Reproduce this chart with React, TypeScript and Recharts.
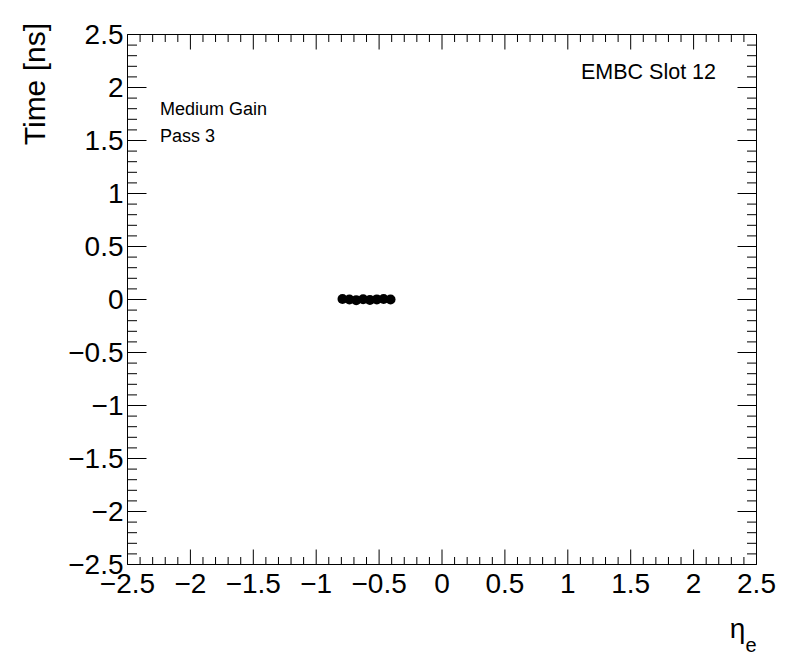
import { ReferenceArea, Scatter, ScatterChart, XAxis, YAxis } from 'recharts';

// measured η positions and time offsets of the slot 12 cells
const etaValues = [-0.791, -0.736, -0.682, -0.627, -0.573, -0.518, -0.464, -0.409];
const timeValues = [0.004, 0.0, -0.006, 0.002, -0.004, 0.001, 0.005, 0.0];

const axisTicks = [
  -2.5, -2.4, -2.3, -2.2, -2.1, -2, -1.9, -1.8, -1.7, -1.6, -1.5, -1.4, -1.3, -1.2, -1.1,
  -1, -0.9, -0.8, -0.7, -0.6, -0.5, -0.4, -0.3, -0.2, -0.1, 0, 0.1, 0.2, 0.3, 0.4, 0.5,
  0.6, 0.7, 0.8, 0.9, 1, 1.1, 1.2, 1.3, 1.4, 1.5, 1.6, 1.7, 1.8, 1.9, 2, 2.1, 2.2, 2.3,
  2.4, 2.5,
];

const W = 796;
const H = 672;
const PLOT = { left: 127.5, top: 34.5, right: 756.5, bottom: 564.5 };
const FONT = '"Liberation Sans", Arial, Helvetica, sans-serif';

const points = etaValues.map((eta, i) => ({ eta, time: timeValues[i] }));

const isMajor = (v: number) => Math.abs(v * 2 - Math.round(v * 2)) < 1e-6;
const fmt = (v: number) => (v < 0 ? '\u2212' + String(-v) : String(v));

function XTick(props: any) {
  const { x, payload } = props;
  const v = payload.value as number;
  const major = isMajor(v);
  const len = major ? 15 : 7.5;
  return (
    <g>
      <line x1={x} y1={PLOT.bottom} x2={x} y2={PLOT.bottom - len} stroke="#000" />
      <line x1={x} y1={PLOT.top} x2={x} y2={PLOT.top + len} stroke="#000" />
      {major && (
        <text x={x} y={PLOT.bottom + 28} textAnchor="middle" fontSize={28} fontFamily={FONT} fill="#000">
          {fmt(v)}
        </text>
      )}
    </g>
  );
}

function YTick(props: any) {
  const { y, payload } = props;
  const v = payload.value as number;
  const major = isMajor(v);
  const len = major ? 19 : 9.5;
  return (
    <g>
      <line x1={PLOT.left} y1={y} x2={PLOT.left + len} y2={y} stroke="#000" />
      <line x1={PLOT.right} y1={y} x2={PLOT.right - len} y2={y} stroke="#000" />
      {major && (
        <text x={PLOT.left - 4} y={y + 9} textAnchor="end" fontSize={28} fontFamily={FONT} fill="#000">
          {fmt(v)}
        </text>
      )}
    </g>
  );
}

const Dot = (props: any) => <circle cx={props.cx} cy={props.cy} r={5} fill="#000" />;

export default function App() {
  return (
    <div style={{ position: 'absolute', left: 0, top: 0, width: W, height: H, background: '#fff' }}>
      <ScatterChart
        width={W}
        height={H}
        margin={{ top: PLOT.top, right: W - PLOT.right, bottom: H - PLOT.bottom - 30, left: PLOT.left - 60 }}
      >
        <XAxis
          type="number"
          dataKey="eta"
          domain={[-2.5, 2.5]}
          ticks={axisTicks}
          interval={0}
          height={30}
          axisLine={false}
          tickLine={false}
          tickSize={0}
          tickMargin={0}
          tick={<XTick />}
          allowDataOverflow
        />
        <YAxis
          type="number"
          dataKey="time"
          domain={[-2.5, 2.5]}
          ticks={axisTicks}
          interval={0}
          width={60}
          axisLine={false}
          tickLine={false}
          tickSize={0}
          tickMargin={0}
          tick={<YTick />}
          allowDataOverflow
        />
        <ReferenceArea x1={-2.5} x2={2.5} y1={-2.5} y2={2.5} fill="none" fillOpacity={0} stroke="#000" strokeWidth={1} />
        <Scatter data={points} shape={<Dot />} isAnimationActive={false} />
      </ScatterChart>
      <svg
        width={W}
        height={H}
        style={{ position: 'absolute', left: 0, top: 0, pointerEvents: 'none' }}
        fontFamily={FONT}
      >
        <text x={45} y={23} transform="rotate(-90 45 23)" textAnchor="end" fontSize={30} fill="#000">
          Time [ns]
        </text>
        <text x={PLOT.right} y={638} textAnchor="end" fill="#000">
          <tspan fontSize={28}>η</tspan>
          <tspan fontSize={20} dy={14}>e</tspan>
        </text>
        <text x={160} y={115} fontSize={18} fill="#000">Medium Gain</text>
        <text x={160} y={142} fontSize={18} fill="#000">Pass 3</text>
        <text x={716} y={79} textAnchor="end" fontSize={21.5} fill="#000">EMBC Slot 12</text>
      </svg>
    </div>
  );
}
